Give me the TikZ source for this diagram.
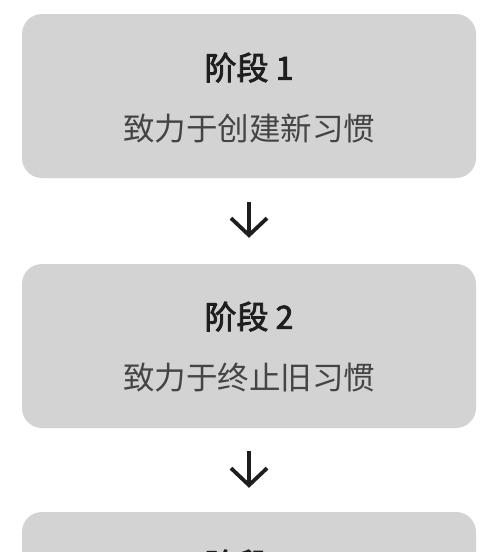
\documentclass[tikz,border=0pt]{standalone}
\usepackage{fontspec}
\setmainfont{Noto Sans CJK SC}
\newfontfamily\stagefont{Noto Sans CJK SC}[FakeBold=2.5]
\usepackage{tikz}
\usetikzlibrary{arrows.meta,positioning}

\definecolor{boxgray}{RGB}{211,211,211}
\definecolor{titleink}{RGB}{30,30,30}
\definecolor{subink}{RGB}{68,68,68}

\begin{document}
\begin{tikzpicture}[x=1pt, y=-1pt,
  stagebox/.style={fill=boxgray, rounded corners=20pt, minimum width=454pt, minimum height=164pt, inner sep=0pt},
  stagetitle/.style={font=\fontsize{32}{32}\stagefont, text=titleink, anchor=base, inner sep=0pt},
  stagetext/.style={font=\fontsize{31.5}{32}\selectfont, text=subink, anchor=base, inner sep=0pt},
  flow/.style={-{Straight Barb[length=17pt, width=36pt]}, line width=3.8pt, draw=titleink}]
  \useasboundingbox (0,0) rectangle (500,552);
  \clip (0,0) rectangle (500,552); % third stage runs off the page

  % Stage boxes
  \node[stagebox] (s1) at (249,96) {};
  \node[stagebox] (s2) at (249,346) {};
  \node[stagebox] (s3) at (249,594) {};

  % Texts in the boxes
  \node[stagetitle] (t1) at ([yshift=-66pt]s1.north) {阶段 1};
  \node[stagetext] (d1) at ([yshift=-127pt]s1.north) {致力于创建新习惯};
  \node[stagetitle] (t2) at ([yshift=-65pt]s2.north) {阶段 2};
  \node[stagetext] (d2) at ([yshift=-126pt]s2.north) {致力于终止旧习惯};
  \node[stagetitle] (t3) at ([yshift=-65pt]s3.north) {阶段 3};

  % Arrows between stages
  \draw[flow] ([yshift=-24pt]s1.south) -- ([yshift=26pt]s2.north);
  \draw[flow] ([yshift=-23pt]s2.south) -- ([yshift=24pt]s3.north);
\end{tikzpicture}
\end{document}
